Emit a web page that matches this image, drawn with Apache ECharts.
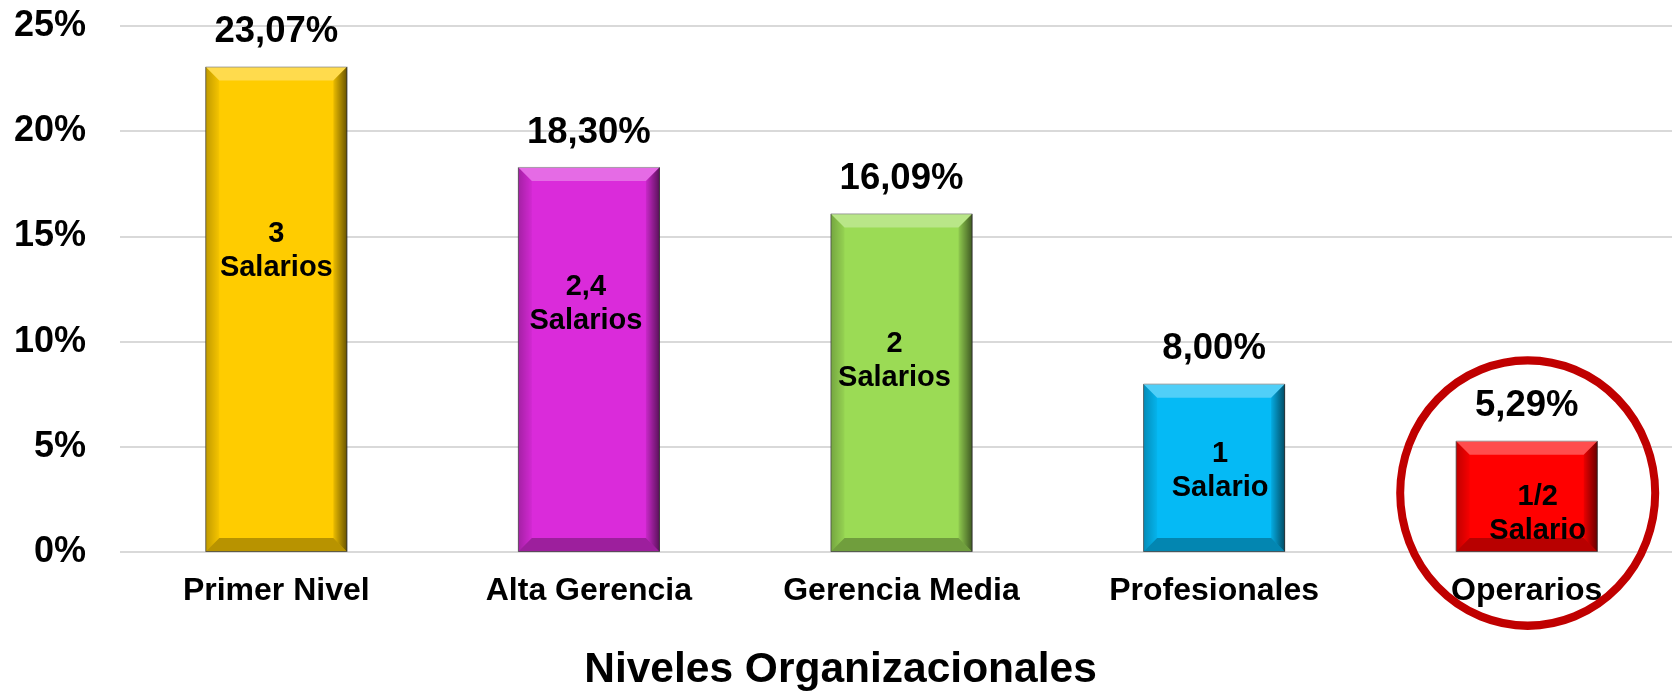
<!DOCTYPE html>
<html>
<head>
<meta charset="utf-8">
<script src="https://cdn.jsdelivr.net/npm/echarts@6/dist/echarts.min.js"></script>
<style>
html,body{margin:0;padding:0;background:#fff;overflow:hidden;}
#c{width:1672px;height:691px;}
</style>
</head>
<body>
<div id="c"></div>
<script>
// ---- data ----
var categories = ['Primer Nivel', 'Alta Gerencia', 'Gerencia Media', 'Profesionales', 'Operarios'];
var values = [23.07, 18.30, 16.09, 8.00, 5.29];
var innerLabels = ['3\nSalarios', '2,4\nSalarios', '2\nSalarios', '1\nSalario', '1/2\nSalario'];
var yTicks = [0, 5, 10, 15, 20, 25];
var xAxisTitle = 'Niveles Organizacionales';
var highlightedCategory = 'Operarios';

// ---- style ----
var barColors = ['#FFCC00', '#DA2BDA', '#9BDB55', '#05BAF5', '#FF0000'];
var innerLabelOffsets = [[0, -58], [-3, -55], [-7, -22], [6, 3], [11, 18]];
var FONT = '"Liberation Sans", Arial, sans-serif';
var BAR_W = 142;
var BEVEL = 14;

var chart = echarts.init(document.getElementById('c'), null, {renderer: 'canvas'});

function fmt(v) { return v.toFixed(2).replace('.', ',') + '%'; }

var option = {
  backgroundColor: '#ffffff',
  animation: false,
  grid: {left: 120, top: 26, bottom: 139, width: 1563, containLabel: false, outerBoundsMode: 'none'},
  xAxis: {
    type: 'category',
    data: categories,
    axisLine: {show: false},
    axisTick: {show: false},
    axisLabel: {margin: 23, color: '#000', fontFamily: FONT, fontWeight: 'bold', fontSize: 32},
    name: xAxisTitle,
    nameLocation: 'middle',
    nameGap: 97,
    nameTextStyle: {color: '#000', fontFamily: FONT, fontWeight: 'bold', fontSize: 42.5, padding: [0, 122, 0, 0]}
  },
  yAxis: {
    type: 'value',
    min: yTicks[0],
    max: yTicks[yTicks.length - 1],
    interval: yTicks[1] - yTicks[0],
    axisLine: {show: false},
    axisTick: {show: false},
    axisLabel: {margin: 34, color: '#000', fontFamily: FONT, fontWeight: 'bold', fontSize: 36,
      formatter: function (v) { return v + '%'; }},
    splitLine: {lineStyle: {color: '#D9D9D9', width: 2}}
  },
  series: [
    {
      type: 'bar',
      barWidth: BAR_W,
      barGap: '-100%',
      z: 2,
      data: values.map(function (v, i) {
        return {
          value: v,
          itemStyle: {
            color: barColors[i],
            borderColor: 'rgba(90,90,90,0.7)',
            borderWidth: 1
          }
        };
      }),
      label: {
        show: true,
        position: 'top',
        distance: 16,
        color: '#000',
        fontFamily: FONT,
        fontWeight: 'bold',
        fontSize: 36.5,
        formatter: function (p) { return fmt(p.value); }
      }
    },
    {
      type: 'custom',
      silent: true,
      z: 3,
      data: values.map(function (v, i) { return [i, v]; }),
      renderItem: function (params, api) {
        var top = api.coord([api.value(0), api.value(1)]);
        var base = api.coord([api.value(0), 0]);
        var w = BAR_W;
        var x0 = top[0] - w / 2, x1 = top[0] + w / 2;
        var y0 = top[1], y1 = base[1];
        var b = Math.min(BEVEL, (y1 - y0) / 2);
        return {
          type: 'group',
          children: [
            {type: 'polygon', shape: {points: [[x0, y0], [x1, y0], [x1 - b, y0 + b], [x0 + b, y0 + b]]},
              style: {fill: 'rgba(255,255,255,0.3)'}},
            {type: 'polygon', shape: {points: [[x0, y0], [x0 + b, y0 + b], [x0 + b, y1 - b], [x0, y1]]},
              style: {fill: new echarts.graphic.LinearGradient(0, 0, 1, 0, [
                {offset: 0, color: 'rgba(0,0,0,0.25)'}, {offset: 1, color: 'rgba(0,0,0,0.04)'}])}},
            {type: 'polygon', shape: {points: [[x1, y0], [x1, y1], [x1 - b, y1 - b], [x1 - b, y0 + b]]},
              style: {fill: new echarts.graphic.LinearGradient(0, 0, 1, 0, [
                {offset: 0, color: 'rgba(0,0,0,0.08)'}, {offset: 1, color: 'rgba(0,0,0,0.6)'}])}},
            {type: 'polygon', shape: {points: [[x0, y1], [x0 + b, y1 - b], [x1 - b, y1 - b], [x1, y1]]},
              style: {fill: 'rgba(0,0,0,0.28)'}}
          ]
        };
      }
    },
    {
      type: 'bar',
      barWidth: BAR_W,
      barGap: '-100%',
      z: 4,
      silent: true,
      itemStyle: {color: 'rgba(0,0,0,0)'},
      data: values.map(function (v, i) {
        return {
          value: v,
          label: {
            show: true,
            position: 'inside',
            offset: innerLabelOffsets[i],
            formatter: innerLabels[i],
            color: '#000',
            fontFamily: FONT,
            fontWeight: 'bold',
            fontSize: 29,
            lineHeight: 34,
            align: 'center'
          }
        };
      })
    }
  ]
};

chart.setOption(option);

// circle annotation around highlighted category
var hi = categories.indexOf(highlightedCategory);
var ctr = chart.convertToPixel({gridIndex: 0}, [hi, 2.8]);
chart.setOption({
  graphic: [{
    type: 'circle',
    x: ctr[0] + 1,
    y: ctr[1],
    scaleY: 132.7 / 127.5,
    shape: {cx: 0, cy: 0, r: 127.5},
    style: {fill: 'none', stroke: '#C00000', lineWidth: 8},
    z: 10,
    silent: true
  }]
});
</script>
</body>
</html>
